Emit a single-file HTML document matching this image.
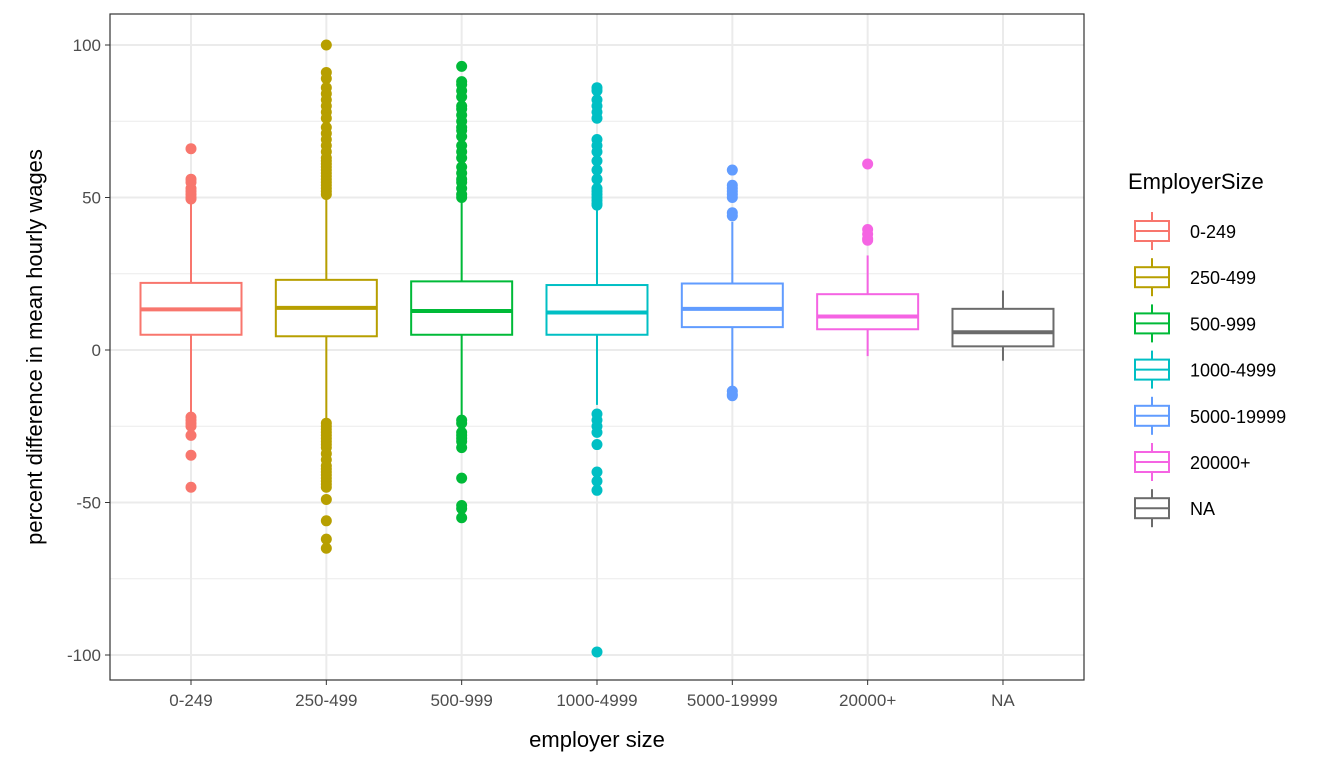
<!DOCTYPE html>
<html><head><meta charset="utf-8"><style>
html,body{margin:0;padding:0;background:#fff;}
svg{display:block;font-family:"Liberation Sans",Arial,sans-serif;}
</style></head><body>
<svg id="chart" width="1344" height="768"></svg>
<script>
const categories=["0-249","250-499","500-999","1000-4999","5000-19999","20000+","NA"];
const colors=["#F8766D","#B79F00","#00BA38","#00BFC4","#619CFF","#F564E3","#6B6B6B"];
const q1=[5,4.5,5,5,7.5,6.8,1.2];
const medians=[13.3,13.8,12.8,12.3,13.5,11,5.8];
const q3=[22,23,22.5,21.3,21.8,18.3,13.5];
const whiskerHigh=[49,51,49,47,42,31,19.5];
const whiskerLow=[-22,-23,-22,-18,-13,-2,-3.5];
const outliers=[
 [66,56,55,53,52,51,50,49.5,-22,-23,-24,-25,-28,-34.5,-45],
 [100,91,89,86,84,82,80,78,76,73,71,69,67,65,63,62,61,60,59,58,57,56,55,54,53,52,51,-24,-25,-26,-27,-28,-29,-30,-31,-32,-34,-36,-38,-39,-40,-41,-42,-43,-44,-45,-49,-56,-62,-65],
 [93,88,87,85,83,80,79,77,75,73,72,70,67,65,63,60,58,56,55,53,51,50,-23,-24,-27,-28,-29,-30,-32,-42,-51,-52,-55],
 [86,85,82,80,78,76,69,67,65,62,59,56,53,52,51,50,49,48,47.5,-21,-23,-25,-27,-31,-40,-43,-46,-99],
 [59,54,53,52,51,50,45,44,-13.5,-14.5,-15],
 [61,39.5,38,36.5,36],
 []
];
const yTicks=[-100,-50,0,50,100];
const yMinor=[-75,-25,25,75];

const NS="http://www.w3.org/2000/svg";
const svg=document.getElementById('chart');
const L=110,R=1084,T=14,B=680;
const y=v=>350-v*3.05;
const x=i=>191+i*135.33;
const bw=101;
function el(tag,attrs,parent){const e=document.createElementNS(NS,tag);for(const k in attrs)e.setAttribute(k,attrs[k]);(parent||svg).appendChild(e);return e;}

const panel=el('rect',{x:L,y:T,width:R-L,height:B-T,fill:'#fff'});


yMinor.forEach(v=>{const g=el('line',{x1:L,x2:R,y1:y(v),y2:y(v),stroke:'#EBEBEB','stroke-width':1});

});
yTicks.forEach(v=>{const g=el('line',{x1:L,x2:R,y1:y(v),y2:y(v),stroke:'#EBEBEB','stroke-width':2});


el('line',{x1:L-5,x2:L,y1:y(v),y2:y(v),stroke:'#333','stroke-width':1});
const t=el('text',{x:L-9,y:y(v)+6,'text-anchor':'end','font-size':17,fill:'#4D4D4D'});t.textContent=v;

});
categories.forEach((c,i)=>{const g=el('line',{x1:x(i),x2:x(i),y1:T,y2:B,stroke:'#EBEBEB','stroke-width':2});


el('line',{x1:x(i),x2:x(i),y1:B,y2:B+5,stroke:'#333','stroke-width':1});
const t=el('text',{x:x(i),y:B+26,'text-anchor':'middle','font-size':17,fill:'#4D4D4D'});t.textContent=c;

});

categories.forEach((c,i)=>{
 const g=el('g',{});
 
 
 const col=colors[i],cx=x(i);
 el('line',{x1:cx,x2:cx,y1:y(q3[i]),y2:y(whiskerHigh[i]),stroke:col,'stroke-width':2},g);
 el('line',{x1:cx,x2:cx,y1:y(q1[i]),y2:y(whiskerLow[i]),stroke:col,'stroke-width':2},g);
 el('rect',{x:cx-bw/2,y:y(q3[i]),width:bw,height:y(q1[i])-y(q3[i]),fill:'#fff',stroke:col,'stroke-width':2},g);
 el('line',{x1:cx-bw/2,x2:cx+bw/2,y1:y(medians[i]),y2:y(medians[i]),stroke:col,'stroke-width':4},g);
 outliers[i].forEach(v=>{const p=el('circle',{cx:cx,cy:y(v),r:5.5,fill:col},g);
 
 });
});
const border=el('rect',{x:L,y:T,width:R-L,height:B-T,fill:'none',stroke:'#333','stroke-width':1.2});



const xt=el('text',{x:597,y:747,'text-anchor':'middle','font-size':22,fill:'#000'});xt.textContent='employer size';


const yt=el('text',{x:0,y:0,'text-anchor':'middle','font-size':22,fill:'#000',transform:'translate(42,347) rotate(-90)'});yt.textContent='percent difference in mean hourly wages';



const lt=el('text',{x:1128,y:189,'font-size':22,fill:'#000'});lt.textContent='EmployerSize';


categories.forEach((c,i)=>{
 const g=el('g',{});
 
 
 const cy=231+i*46.2,col=colors[i];
 el('line',{x1:1152,x2:1152,y1:cy-19,y2:cy+19,stroke:col,'stroke-width':2},g);
 el('rect',{x:1135,y:cy-10,width:34,height:20,fill:'#fff',stroke:col,'stroke-width':2},g);
 el('line',{x1:1135,x2:1169,y1:cy,y2:cy,stroke:col,'stroke-width':2},g);
 const t=el('text',{x:1190,y:cy+7,'font-size':18,fill:'#000'},g);t.textContent=c;
});
</script>
</body></html>
